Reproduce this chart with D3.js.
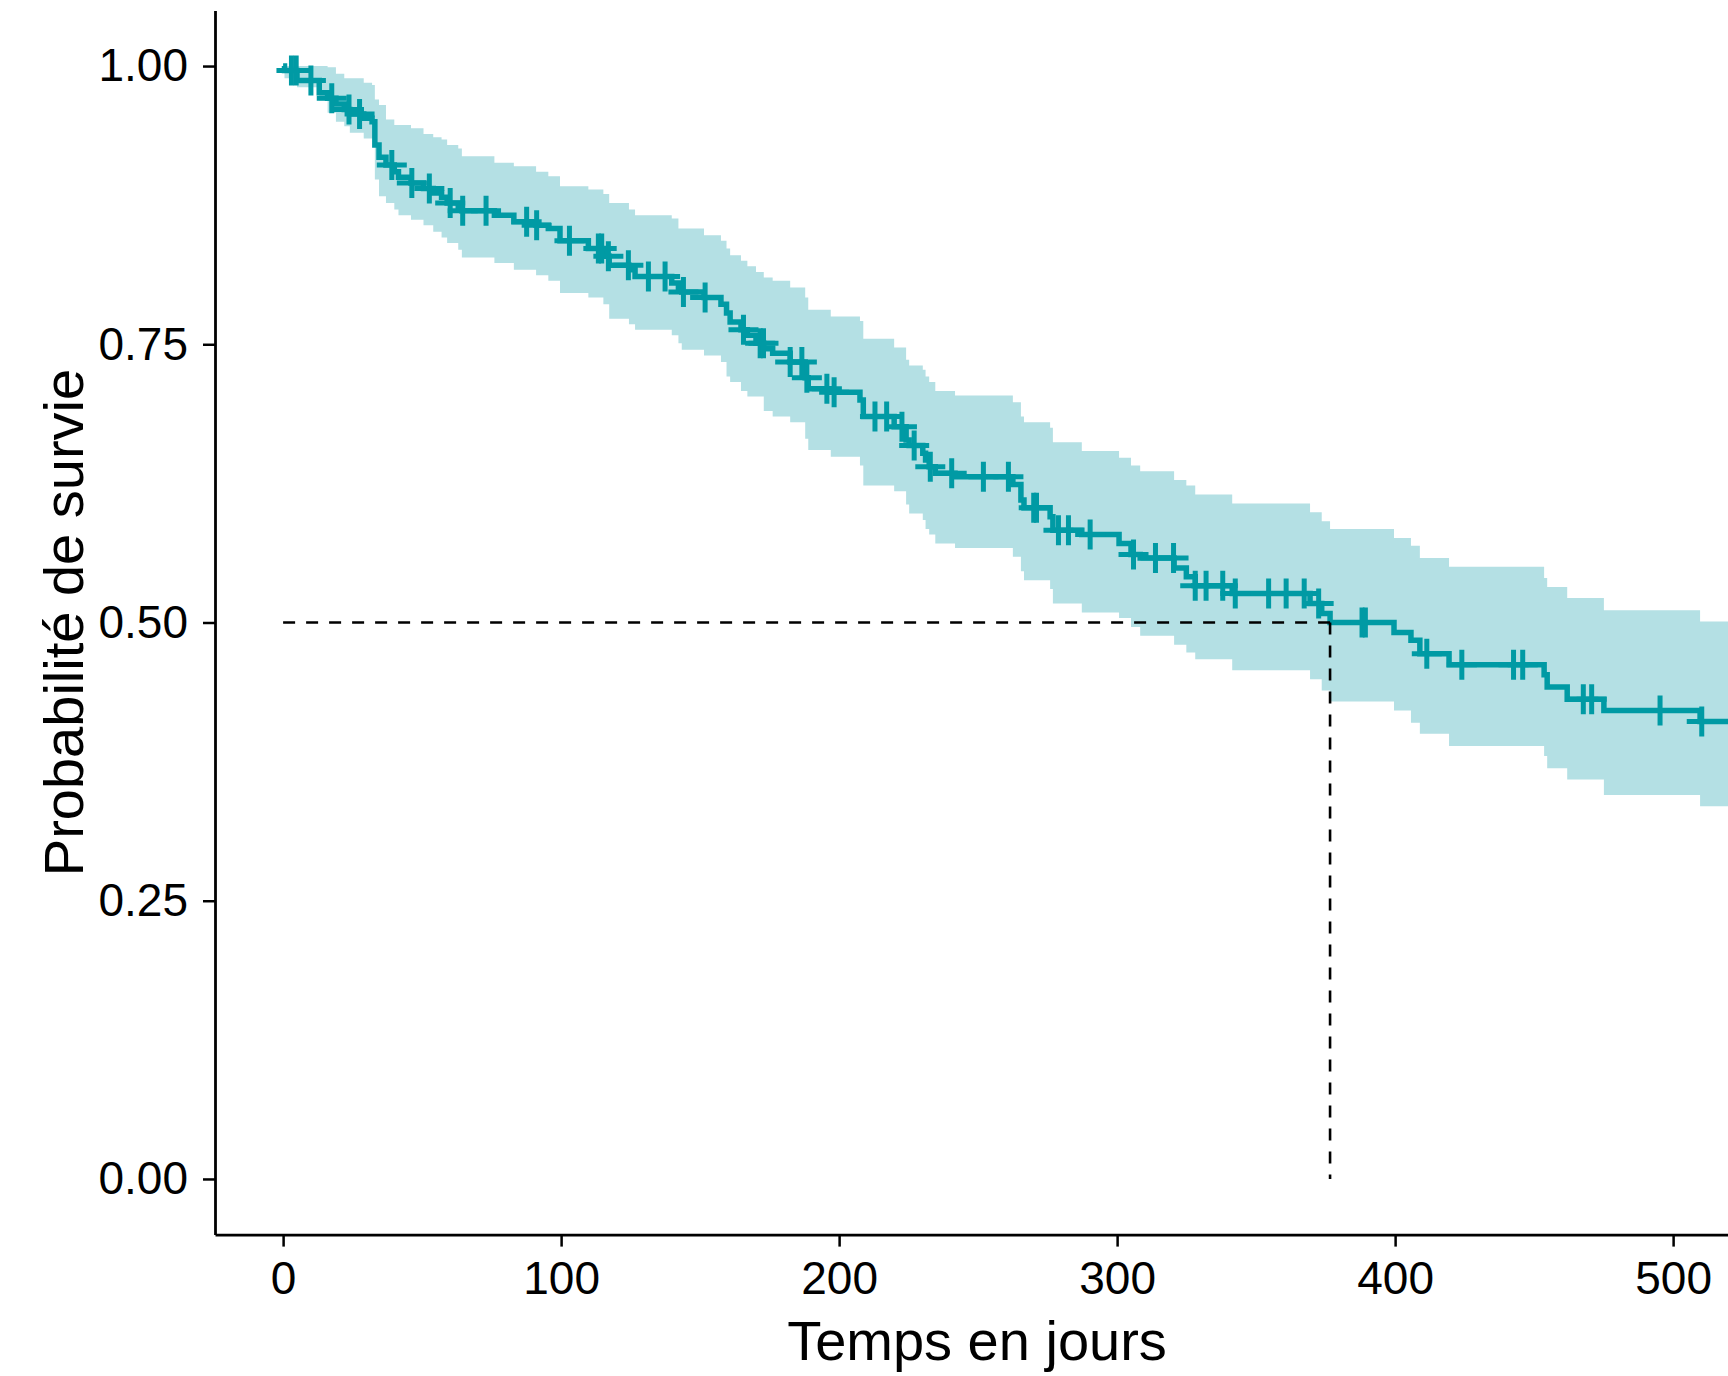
<!DOCTYPE html>
<html>
<head>
<meta charset="utf-8">
<script src="https://cdn.jsdelivr.net/npm/d3@7"></script>
<style>
  body { margin: 0; background: #fff; }
  svg text { font-family: "Liberation Sans", Arial, sans-serif; fill: #000; }
</style>
</head>
<body>
<svg id="km"></svg>
<script>
// (Num, Num) -> String
const translate = (x, y) => "translate(" + x + "," + y + ")"

// Kaplan-Meier estimate, one row per event time (value holds until next time)
const times = [0, 0.5, 5, 13, 16, 19, 22, 24, 29, 32, 33, 34.5, 37, 40, 41.5, 46, 50.5, 54, 57, 59,
  63, 64.3, 76, 83, 91, 95.4, 99.6, 109.8, 115.2, 117.3, 124.4, 126.6, 139.8, 142.2, 143.4, 151.4,
  157.5, 159.5, 160.8, 164.7, 167, 170.1, 172.9, 176.1, 182.4, 187.8, 188.9, 197, 207.5, 208.7,
  219.8, 224.1, 225.2, 230.1, 231.1, 232.4, 234.6, 241.7, 262.5, 265.4, 266.5, 275.9, 276.9, 287.3,
  300.7, 305, 308.3, 320.5, 324.9, 328.1, 341.4, 369.4, 373.6, 376.6, 399.6, 405.7, 408.9, 419.4,
  453.6, 454.7, 461.9, 475.1, 509.7, 530]

const survival = [1.000, 0.996, 0.987, 0.976, 0.971, 0.966, 0.961, 0.957, 0.953, 0.950, 0.929, 0.918,
  0.911, 0.905, 0.900, 0.895, 0.890, 0.886, 0.882, 0.877, 0.873, 0.870, 0.866, 0.860, 0.857, 0.854,
  0.843, 0.836, 0.829, 0.821, 0.817, 0.811, 0.805, 0.800, 0.797, 0.792, 0.786, 0.778, 0.770, 0.763,
  0.758, 0.751, 0.746, 0.742, 0.734, 0.720, 0.710, 0.707, 0.700, 0.685, 0.676, 0.664, 0.659, 0.652,
  0.646, 0.640, 0.634, 0.631, 0.624, 0.610, 0.603, 0.595, 0.583, 0.579, 0.571, 0.561, 0.558, 0.549,
  0.541, 0.533, 0.526, 0.517, 0.508, 0.500, 0.491, 0.484, 0.472, 0.462, 0.453, 0.442, 0.431, 0.421,
  0.411, 0.411]

const upper = [1.000, 1.000, 1.000, 1.000, 0.999, 0.993, 0.989, 0.989, 0.985, 0.983, 0.970, 0.965,
  0.952, 0.947, 0.947, 0.944, 0.939, 0.936, 0.934, 0.929, 0.926, 0.919, 0.913, 0.910, 0.905, 0.901,
  0.892, 0.889, 0.885, 0.877, 0.871, 0.866, 0.863, 0.854, 0.854, 0.848, 0.843, 0.836, 0.830, 0.825,
  0.820, 0.815, 0.810, 0.807, 0.801, 0.792, 0.781, 0.775, 0.771, 0.755, 0.747, 0.736, 0.731, 0.727,
  0.721, 0.716, 0.708, 0.704, 0.698, 0.685, 0.680, 0.675, 0.662, 0.654, 0.648, 0.641, 0.636, 0.628,
  0.623, 0.615, 0.607, 0.599, 0.591, 0.584, 0.576, 0.569, 0.558, 0.550, 0.540, 0.532, 0.522, 0.511,
  0.501, 0.501]

const lower = [1.000, 0.989, 0.981, 0.969, 0.958, 0.950, 0.946, 0.940, 0.935, 0.935, 0.898, 0.883,
  0.877, 0.871, 0.866, 0.862, 0.857, 0.851, 0.846, 0.841, 0.835, 0.828, 0.823, 0.817, 0.812, 0.807,
  0.796, 0.792, 0.786, 0.773, 0.768, 0.763, 0.758, 0.751, 0.745, 0.740, 0.734, 0.721, 0.716, 0.708,
  0.703, 0.703, 0.690, 0.685, 0.680, 0.665, 0.655, 0.649, 0.641, 0.623, 0.618, 0.606, 0.598, 0.592,
  0.584, 0.579, 0.571, 0.567, 0.559, 0.546, 0.538, 0.530, 0.517, 0.509, 0.504, 0.496, 0.488, 0.480,
  0.473, 0.467, 0.457, 0.449, 0.439, 0.429, 0.421, 0.410, 0.400, 0.389, 0.380, 0.369, 0.359, 0.345,
  0.335, 0.335]

// censored observations (days)
const censored = [3, 4.7, 10, 17.5, 23.7, 27.5, 39.1, 46.3, 52.6, 60.1, 64.6, 73, 87.6, 91.2, 103,
  113.4, 114.6, 117, 124.2, 131.4, 137.4, 144, 151.8, 165.6, 171.6, 172.8, 182.4, 186.6, 188.4,
  195.6, 198.2, 212.9, 217.1, 222.6, 227, 232.8, 240.5, 251.9, 260.9, 270, 271, 278.9, 282.5, 290.3,
  305.9, 313.8, 320.3, 328.1, 332, 338, 342.5, 354.5, 360.8, 367.3, 372.5, 388.1, 389.3, 411.4, 424,
  442.6, 445.9, 467.7, 470.7, 495.3, 510.3]

const xTicks = [0, 100, 200, 300, 400, 500]
const yTicks = [0, 0.25, 0.5, 0.75, 1]

const xTitle = "Temps en jours"
const yTitle = "Probabilité de survie"

const lineColor = "#009aa4"
const fillColor = "#b4e0e4"

const width = 1728
const height = 1376
const panel = { left: 215, right: 1739, top: 10.4, bottom: 1234.6 }

const rows = times.map((t, i) => ({ t: t, s: survival[i], hi: upper[i], lo: lower[i] }))

const x = d3.scaleLinear().domain([-24.5, 523.7]).range([panel.left, panel.right])
const y = d3.scaleLinear().domain([-0.05, 1.05]).range([panel.bottom, panel.top])

const svg = d3.select("#km")
    .attr("width", width)
    .attr("height", height)
    .style("background", "#fff")

svg.append("clipPath").attr("id", "clip")
    .append("rect")
    .attr("x", panel.left).attr("y", 0)
    .attr("width", panel.right - panel.left).attr("height", panel.bottom)

const plot = svg.append("g").attr("clip-path", "url(#clip)")

// confidence band
plot.append("path")
    .datum(rows)
    .attr("fill", fillColor)
    .attr("d", d3.area()
        .curve(d3.curveStepAfter)
        .x(d => x(d.t))
        .y0(d => y(d.lo))
        .y1(d => y(d.hi)))

// survival curve
plot.append("path")
    .datum(rows)
    .attr("fill", "none")
    .attr("stroke", lineColor)
    .attr("stroke-width", 5.5)
    .attr("d", d3.line()
        .curve(d3.curveStepAfter)
        .x(d => x(d.t))
        .y(d => y(d.s)))

// censor marks
const survAt = t => survival[d3.bisectRight(times, t) - 1]
plot.selectAll(".censor")
    .data(censored)
    .enter()
    .append("path")
    .attr("class", "censor")
    .attr("transform", d => translate(x(d), y(survAt(d))))
    .attr("d", "M-15,0H15M0,-15V15")
    .attr("stroke", lineColor)
    .attr("stroke-width", 5)

// median survival
const median = times[survival.findIndex(s => s <= 0.5)]
const dash = "12,11"
plot.append("line")
    .attr("x1", x(0)).attr("x2", x(median))
    .attr("y1", y(0.5)).attr("y2", y(0.5))
    .attr("stroke", "#000").attr("stroke-width", 2.6)
    .attr("stroke-dasharray", dash)
plot.append("line")
    .attr("x1", x(median)).attr("x2", x(median))
    .attr("y1", y(0.5)).attr("y2", y(0))
    .attr("stroke", "#000").attr("stroke-width", 2.6)
    .attr("stroke-dasharray", dash)

// axes
const xAxis = svg.append("g")
    .attr("transform", translate(0, panel.bottom))
    .call(d3.axisBottom(x).tickValues(xTicks).tickSizeInner(12).tickSizeOuter(0).tickPadding(15))
const yAxis = svg.append("g")
    .attr("transform", translate(panel.left, 0))
    .call(d3.axisLeft(y).tickValues(yTicks).tickFormat(d3.format(".2f"))
        .tickSizeInner(12).tickSizeOuter(0).tickPadding(15))

;[xAxis, yAxis].forEach(g => {
    g.attr("font-family", null).attr("font-size", null)
    g.select(".domain").attr("stroke", "#000").attr("stroke-width", 2.8)
    g.selectAll(".tick line").attr("stroke", "#000").attr("stroke-width", 2.5)
    g.selectAll(".tick text").attr("font-size", 46).attr("fill", "#000")
})

svg.append("text")
    .attr("x", (panel.left + panel.right) / 2)
    .attr("y", 1360)
    .attr("text-anchor", "middle")
    .attr("font-size", 56)
    .text(xTitle)

svg.append("text")
    .attr("transform", translate(83, (panel.top + panel.bottom) / 2) + " rotate(-90)")
    .attr("text-anchor", "middle")
    .attr("font-size", 56)
    .text(yTitle)
</script>
</body>
</html>
